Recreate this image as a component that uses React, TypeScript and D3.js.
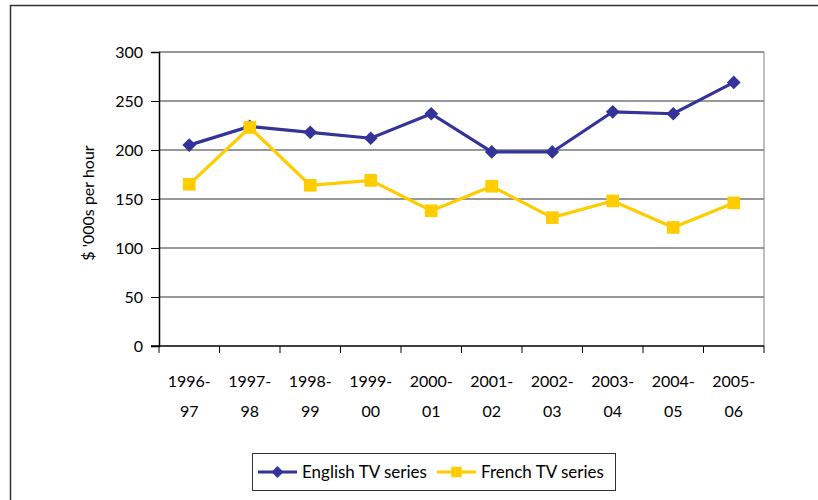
import React, { useEffect, useRef } from 'react';
import * as d3 from 'd3';

// chart data
const periods = ['1996-97', '1997-98', '1998-99', '1999-00', '2000-01', '2001-02', '2002-03', '2003-04', '2004-05', '2005-06'];
const englishValues = [205, 224, 218, 212, 237, 198, 198, 239, 237, 269];
const frenchValues = [165, 223, 164, 169, 138, 163, 131, 148, 121, 146];
const yTicks = [0, 50, 100, 150, 200, 250, 300];

const FONT = 'Lato, "Open Sans", sans-serif';

function App() {
    const svgRef = useRef<SVGSVGElement>(null);

    useEffect(() => {
        const svg = d3.select(svgRef.current);
        svg.selectAll('*').remove();

        const left = 159, right = 764, top = 52, bottom = 346;

        // outer frame (runs off the right / bottom of the picture)
        svg.append('rect')
            .attr('x', 10.5).attr('y', 5.5)
            .attr('width', 830).attr('height', 520)
            .attr('fill', 'white')
            .attr('stroke', '#333').attr('stroke-width', 1.5);

        const x = d3.scaleBand().domain(periods).range([left, right]);
        const y = d3.scaleLinear().domain([0, 300]).range([bottom, top]);

        // gridlines
        svg.append('g')
            .selectAll('line')
            .data(yTicks.filter(t => t > 0))
            .join('line')
            .attr('x1', left).attr('x2', right)
            .attr('y1', d => y(d)).attr('y2', d => y(d))
            .attr('stroke', '#333').attr('stroke-width', 1);

        // right border of plot
        svg.append('line')
            .attr('x1', right).attr('x2', right)
            .attr('y1', top).attr('y2', bottom)
            .attr('stroke', '#808080').attr('stroke-width', 1);

        // y axis
        const yAxis = svg.append('g')
            .attr('transform', `translate(${left},0)`)
            .call(d3.axisLeft(y).tickValues(yTicks).tickSize(8).tickPadding(8));
        yAxis.select('.domain').attr('stroke', '#000').attr('stroke-width', 1.5);
        yAxis.selectAll('.tick line').attr('stroke', '#000');
        yAxis.selectAll('text')
            .attr('font-family', FONT).attr('font-size', 16).attr('fill', '#000');

        // x axis: ticks at category boundaries, below the axis
        svg.append('line')
            .attr('x1', left - 8).attr('x2', right)
            .attr('y1', bottom).attr('y2', bottom)
            .attr('stroke', '#000').attr('stroke-width', 1.5);
        const bounds = periods.map(p => x(p) as number).concat([right]);
        svg.append('g')
            .selectAll('line')
            .data(bounds)
            .join('line')
            .attr('x1', d => d).attr('x2', d => d)
            .attr('y1', bottom).attr('y2', bottom + 7)
            .attr('stroke', '#000').attr('stroke-width', 1);

        const labels = svg.append('g')
            .selectAll('text')
            .data(periods)
            .join('text')
            .attr('text-anchor', 'middle')
            .attr('font-family', FONT).attr('font-size', 16)
            .attr('fill', '#000');
        labels.append('tspan')
            .attr('x', d => (x(d) as number) + x.bandwidth() / 2)
            .attr('y', 387)
            .text(d => d.split('-')[0] + '-');
        labels.append('tspan')
            .attr('x', d => (x(d) as number) + x.bandwidth() / 2)
            .attr('y', 417)
            .text(d => d.split('-')[1]);

        // y title
        svg.append('text')
            .attr('transform', `translate(94,${(top + bottom) / 2 + 4}) rotate(-90)`)
            .attr('text-anchor', 'middle')
            .attr('font-family', FONT).attr('font-size', 16)
            .attr('fill', '#000')
            .text("$ '000s per hour");

        const cx = (d: string) => (x(d) as number) + x.bandwidth() / 2;
        const line = d3.line<[string, number]>()
            .x(d => cx(d[0]))
            .y(d => y(d[1]));

        const series = [
            { name: 'English TV series', values: englishValues, color: '#333399', shape: d3.symbolDiamond2 },
            { name: 'French TV series', values: frenchValues, color: '#FFCC00', shape: d3.symbolSquare },
        ];

        series.forEach(s => {
            const pts = periods.map((p, i) => [p, s.values[i]] as [string, number]);
            svg.append('path')
                .datum(pts)
                .attr('fill', 'none')
                .attr('stroke', s.color)
                .attr('stroke-width', 3.2)
                .attr('d', line);
            svg.append('g')
                .selectAll('path')
                .data(pts)
                .join('path')
                .attr('transform', d => `translate(${cx(d[0])},${y(d[1])})`)
                .attr('d', d3.symbol().type(s.shape).size(s.shape === d3.symbolSquare ? 160 : 120)())
                .attr('fill', s.color);
        });

        // legend
        const legend = svg.append('g');
        legend.append('rect')
            .attr('x', 252.5).attr('y', 453.5)
            .attr('width', 363).attr('height', 37)
            .attr('fill', 'white')
            .attr('stroke', '#333').attr('stroke-width', 1);
        const legendX = [258, 437];
        series.forEach((s, i) => {
            const lx = legendX[i];
            legend.append('line')
                .attr('x1', lx).attr('x2', lx + 39)
                .attr('y1', 472).attr('y2', 472)
                .attr('stroke', s.color).attr('stroke-width', 3);
            legend.append('path')
                .attr('transform', `translate(${lx + 19.5},472)`)
                .attr('d', d3.symbol().type(s.shape).size(s.shape === d3.symbolSquare ? 110 : 90)())
                .attr('fill', s.color);
            legend.append('text')
                .attr('x', lx + 44).attr('y', 478)
                .attr('font-family', FONT).attr('font-size', 17)
                .attr('fill', '#000')
                .text(s.name);
        });
    }, []);

    return (
        <svg ref={svgRef} width={818} height={500}
            style={{ position: 'absolute', left: 0, top: 0, display: 'block' }}></svg>
    );
}

export default App;
